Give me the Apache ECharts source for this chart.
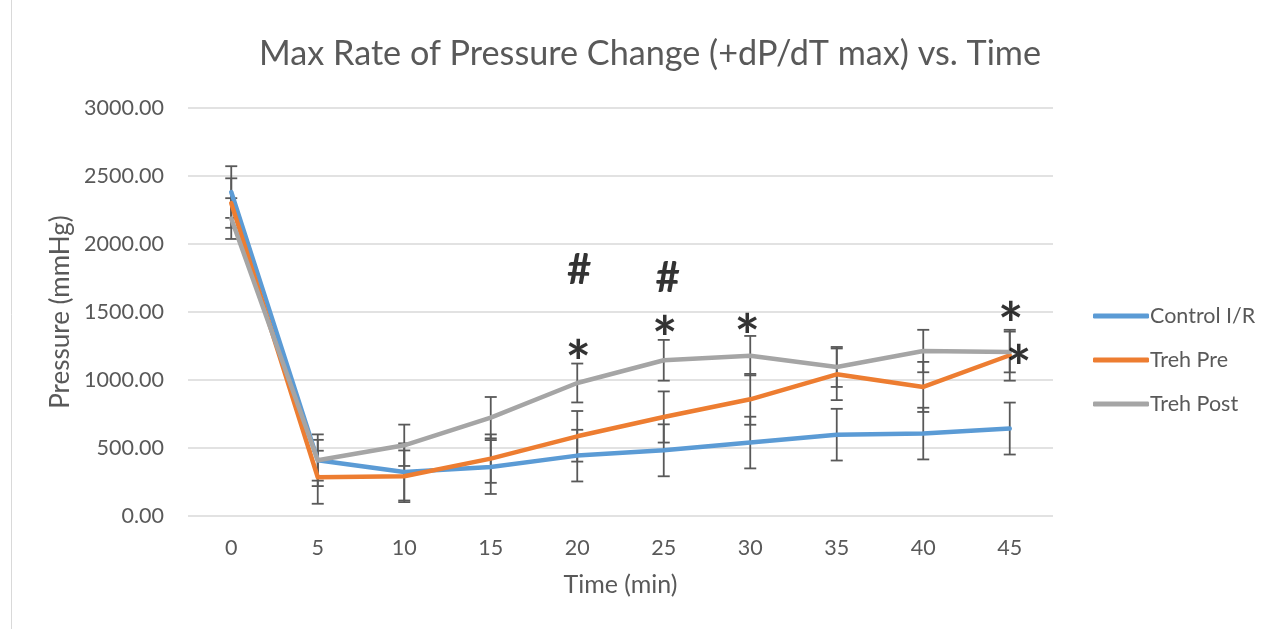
<!DOCTYPE html>
<html>
<head>
<meta charset="utf-8">
<script src="https://cdn.jsdelivr.net/npm/echarts@6/dist/echarts.min.js"></script>
<style>
  html, body { margin: 0; padding: 0; background: #fff; }
  #chart { width: 1272px; height: 629px; }
</style>
</head>
<body>
<div id="chart"></div>
<script>
// Time points (min)
const times = ['0', '5', '10', '15', '20', '25', '30', '35', '40', '45'];
const yTicks = [0, 500, 1000, 1500, 2000, 2500, 3000];

// Mean +dP/dT max per group
const controlIR = [2382, 410, 324, 360, 444, 483, 540, 598, 606, 643];
const trehPre   = [2301, 285, 292, 422, 586, 728, 858, 1042, 949, 1182];
const trehPost  = [2187, 410, 520, 723, 978, 1145, 1179, 1096, 1213, 1206];

// Error bar half-widths (±)
const controlErr = [190, 150, 210, 198, 190, 191, 190, 190, 190, 191];
const preErr     = [182, 195, 190, 178, 186, 188, 187, 190, 184, 187];
const postErr    = [150, 190, 152, 152, 143, 150, 145, 147, 156, 150];

// Significance markers: time index, height on pressure scale, symbol
const sigIndex  = [4, 4, 5, 5, 6, 9, 9];
const sigHeight = [1807, 1243, 1748, 1419, 1439, 1525, 1206];
const sigText   = ['#', '*', '#', '*', '*', '*', '*'];
const sigShiftX = [2, 1, 4, 1, -3, 1, 9];

const colors = { control: '#5B9BD5', pre: '#ED7D31', post: '#A5A5A5' };
const textGray = '#595959';
const font = 'Lato, "Open Sans", sans-serif';

function errData(means, errs) {
  return means.map((m, i) => [i, m - errs[i], m + errs[i]]);
}

function errorBarSeries(name, means, errs) {
  return {
    type: 'custom',
    name: name + ' error',
    z: 1,
    silent: true,
    data: errData(means, errs),
    renderItem: function (params, api) {
      const x = api.value(0);
      const lo = api.coord([x, api.value(1)]);
      const hi = api.coord([x, api.value(2)]);
      const cap = 6;
      const style = { stroke: '#595959', lineWidth: 1.8 };
      return {
        type: 'group',
        children: [
          { type: 'line', shape: { x1: lo[0], y1: lo[1], x2: hi[0], y2: hi[1] }, style: style },
          { type: 'line', shape: { x1: lo[0] - cap, y1: lo[1], x2: lo[0] + cap, y2: lo[1] }, style: style },
          { type: 'line', shape: { x1: hi[0] - cap, y1: hi[1], x2: hi[0] + cap, y2: hi[1] }, style: style }
        ]
      };
    }
  };
}

function lineSeries(name, data, color) {
  return {
    type: 'line',
    name: name,
    data: data,
    z: 3,
    symbol: 'none',
    lineStyle: { color: color, width: 4.5, cap: 'round', join: 'round' },
    itemStyle: { color: color }
  };
}

const sigData = sigIndex.map((c, i) => {
  const star = sigText[i] === '*';
  return {
    value: [c, sigHeight[i]],
    label: {
      formatter: sigText[i],
      fontSize: star ? 60 : 42,
      offset: [sigShiftX[i], star ? 18 : 0]
    }
  };
});

const chart = echarts.init(document.getElementById('chart'), null, { renderer: 'canvas' });

chart.setOption({
  backgroundColor: '#ffffff',
  animation: false,
  title: {
    text: 'Max Rate of Pressure Change (+dP/dT max) vs. Time',
    left: 645,
    top: 32,
    textAlign: 'center',
    textStyle: { color: textGray, fontFamily: font, fontSize: 34.2, fontWeight: 'normal' }
  },
  legend: {
    orient: 'vertical',
    left: 1088,
    top: 300,
    itemGap: 22,
    itemWidth: 56,
    itemHeight: 5,
    icon: 'roundRect',
    data: ['Control I/R', 'Treh Pre', 'Treh Post'],
    textStyle: { color: textGray, fontFamily: font, fontSize: 21.5, padding: [0, 0, 0, -4] }
  },
  graphic: [{
    type: 'line',
    shape: { x1: 11.5, y1: 0, x2: 11.5, y2: 629 },
    style: { stroke: '#d9d9d9', lineWidth: 1 }
  }],
  grid: { left: 188, right: 219, top: 108, bottom: 113 },
  xAxis: {
    type: 'category',
    data: times,
    boundaryGap: true,
    axisLine: { show: false },
    axisTick: { show: false },
    axisLabel: { color: textGray, fontFamily: font, fontSize: 21.5, margin: 21 },
    name: 'Time (min)',
    nameLocation: 'middle',
    nameGap: 56,
    nameTextStyle: { color: textGray, fontFamily: font, fontSize: 25 }
  },
  yAxis: {
    type: 'value',
    min: yTicks[0],
    max: yTicks[yTicks.length - 1],
    interval: 500,
    axisLine: { show: false },
    axisTick: { show: false },
    splitLine: { lineStyle: { color: '#d9d9d9', width: 1.5 } },
    axisLabel: {
      color: textGray, fontFamily: font, fontSize: 21.5, margin: 24,
      formatter: v => v.toFixed(2)
    },
    name: 'Pressure (mmHg)',
    nameLocation: 'middle',
    nameGap: 112,
    nameRotate: 90,
    nameTextStyle: { color: textGray, fontFamily: font, fontSize: 26 }
  },
  series: [
    errorBarSeries('Control I/R', controlIR, controlErr),
    errorBarSeries('Treh Pre', trehPre, preErr),
    errorBarSeries('Treh Post', trehPost, postErr),
    lineSeries('Control I/R', controlIR, colors.control),
    lineSeries('Treh Pre', trehPre, colors.pre),
    lineSeries('Treh Post', trehPost, colors.post),
    {
      type: 'scatter',
      name: 'significance',
      z: 5,
      silent: true,
      symbolSize: 0,
      data: sigData,
      label: {
        show: true,
        position: 'inside',
        color: '#000',
        fontFamily: font,
        fontWeight: 'bold',
        verticalAlign: 'middle',
        align: 'center'
      }
    }
  ]
});
</script>
</body>
</html>
